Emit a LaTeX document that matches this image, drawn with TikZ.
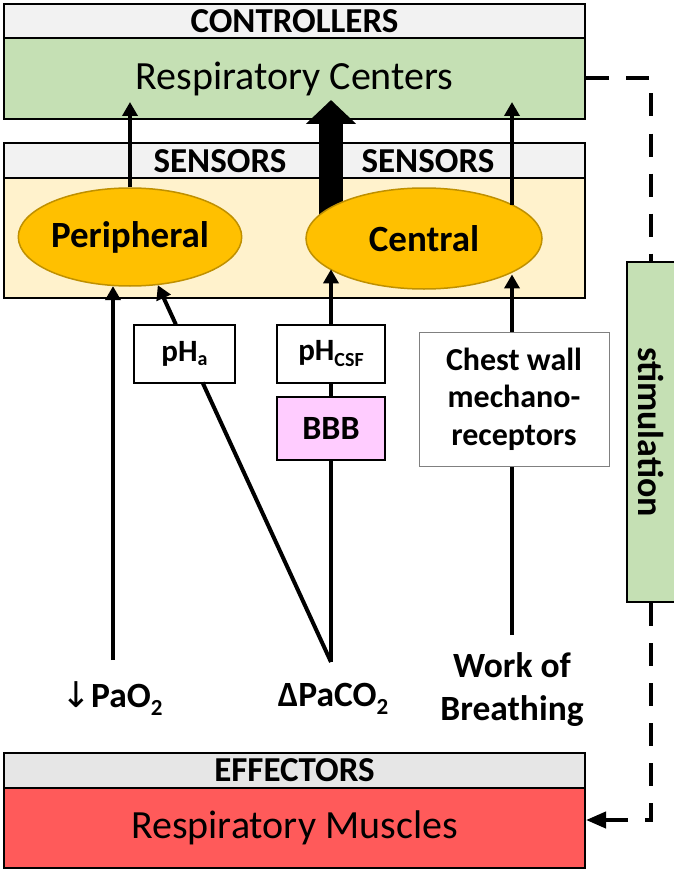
\documentclass[tikz,border=0pt]{standalone}
\usepackage{fontspec}
\setmainfont{Carlito}
\newfontfamily\dejavu{DejaVu Sans}
\usetikzlibrary{arrows.meta,shapes.geometric,calc}
\definecolor{hdrgray}{HTML}{F2F2F2}
\definecolor{effgray}{HTML}{E6E6E6}
\definecolor{ctrlgreen}{HTML}{C5E0B4}
\definecolor{senstan}{HTML}{FFF2CC}
\definecolor{ellfill}{HTML}{FFC000}
\definecolor{elldraw}{HTML}{BF9000}
\definecolor{bbbpink}{HTML}{FFCCFF}
\definecolor{musclered}{HTML}{FF5A5A}
\newcommand{\lowsub}[3]{\raisebox{-#1}{\fontsize{#2}{#2}\selectfont #3}}
\pgfdeclarelayer{back}
\pgfdeclarelayer{mid}
\pgfsetlayers{back,mid,main}
\begin{document}
\begin{tikzpicture}[x=1pt,y=-1pt,
  bigbox/.style={rectangle, draw=black, line width=2pt, minimum width=581pt, inner sep=0pt},
  hdrtext/.style={font=\fontsize{35}{40}\selectfont\bfseries, inner sep=0pt},
  bigtext/.style={font=\fontsize{40}{46}\selectfont},
  ellnode/.style={ellipse, draw=elldraw, line width=1.5pt, fill=ellfill, inner sep=0pt, font=\fontsize{37}{42}\selectfont\bfseries},
  smallbox/.style={rectangle, draw=black, line width=1.5pt, fill=white, inner sep=0pt, font=\fontsize{31}{36}\selectfont\bfseries},
  cwbox/.style={rectangle, draw=black!50, line width=1pt, fill=white, inner sep=0pt, align=center, font=\fontsize{32}{37.5}\selectfont\bfseries},
  labeltext/.style={inner sep=0pt, align=center, font=\fontsize{35.5}{43}\selectfont\bfseries},
  arr/.style={line width=4pt, -{Triangle[width=15pt,length=14pt]}},
  plainline/.style={line width=4pt},
  thickarr/.style={line width=24pt, -{Triangle[width=49pt,length=24pt]}},
  dashline/.style={line width=4pt, dash pattern=on 23pt off 17pt}
]
\useasboundingbox (0,0) rectangle (673,872);

% ---- boxes
\begin{pgfonlayer}{back}
\fill[white] (0,0) rectangle (673,872);
\node[bigbox, fill=hdrgray, minimum height=34pt] (ctrl) at (294.5,21) {};
\node[bigbox, fill=ctrlgreen, minimum height=81pt] (rc) at (294.5,78.5) {};
\node[bigbox, fill=hdrgray, minimum height=35pt] (senshead) at (294.5,160.5) {};
\node[bigbox, fill=senstan, minimum height=120pt] (sensbody) at (294.5,238) {};
\node[bigbox, fill=effgray, minimum height=35pt] (effhead) at (294.5,770.5) {};
\node[bigbox, fill=musclered, minimum height=80pt] (rm) at (294.5,828) {};
\end{pgfonlayer}

\node[hdrtext] (ctrltext) at (ctrl.center) {CONTROLLERS};
\node[bigtext] (rctext) at (rc.center) {Respiratory Centers};
\node[hdrtext] (sensL) at (220,161) {SENSORS};
\node[hdrtext] (sensR) at (428,161) {SENSORS};
\node[hdrtext] (efftext) at (effhead.center) {EFFECTORS};
\node[bigtext] (rmtext) at (rm.center) {Respiratory Muscles};

% ---- sensors
\node[ellnode, minimum width=204pt, minimum height=98pt] (periph) at (130,237) {Peripheral};
\node[ellnode, minimum width=236pt, minimum height=101pt] (central) at (424,238.5) {Central};

% ---- tips in controller box
\coordinate (tipL) at (130,102);
\coordinate (tipM) at (331,100);
\coordinate (tipR) at (512,102);

\begin{pgfonlayer}{mid}
\draw[thickarr] (tipM |- central.center) -- (tipM);
\end{pgfonlayer}
\draw[arr] (periph.north) -- (tipL);
\draw[arr] (tipR |- central.20.7) -- (tipR);

% ---- intermediate boxes
\node[smallbox, minimum width=101pt, minimum height=58pt] (pha) at (184.5,354) {pH\lowsub{4pt}{20}{a}};
\node[smallbox, minimum width=108pt, minimum height=58pt] (phcsf) at (331,354) {pH\lowsub{6pt}{20}{CSF}};
\node[smallbox, fill=bbbpink, minimum width=108pt, minimum height=63pt, font=\fontsize{34}{40}\selectfont\bfseries] (bbb) at (331,428.5) {BBB};
\node[cwbox, minimum width=190pt, minimum height=134pt] (cw) at (514,399) {Chest wall\\mechano-\\receptors};

% ---- stimuli labels
\node[labeltext] (pao2) at (112,699) {{\dejavu\mdseries ↓}PaO\lowsub{8pt}{23}{2}};
\node[labeltext] (pco2) at (333,699) {ΔPaCO\lowsub{8pt}{23}{2}};
\node[labeltext] (wob) at (512,690) {Work of\\Breathing};

\coordinate (pao2top) at (113,660);
\coordinate (pco2top) at (331,662);
\coordinate (wobtop) at (512,635);

% PaO2 -> peripheral
\draw[arr] (pao2top) -- (pao2top |- periph.250.6);
% PaCO2 -> pHa -> peripheral
\coordinate (pend) at (periph.300.7);
\draw[plainline] (pco2top) -- ($(pco2top)!0.7418!(pend)$);
\draw[arr] ($(pco2top)!0.896!(pend)$) -- (pend);
% PaCO2 -> BBB -> pHcsf -> central
\draw[plainline] (pco2top) -- (bbb.south);
\draw[plainline] (bbb.north) -- (phcsf.south);
\draw[arr] (phcsf.north) -- (phcsf.north |- central.198.3);
% Work of breathing -> chest wall -> central
\draw[plainline] (wobtop) -- (wobtop |- cw.south);
\draw[arr] (wobtop |- cw.north) -- (wobtop |- central.337.8);

% ---- stimulation feedback
\node[rectangle, draw=black, line width=2pt, fill=ctrlgreen, rotate=-90, minimum width=340pt, minimum height=48pt, inner sep=0pt, font=\fontsize{36}{40}\selectfont\bfseries] (stim) at (651,432) {stimulation};
\path ([yshift=8pt]rm.east) coordinate (rmarrow);
\draw[dashline] (rc.east) -- (rc.east -| stim.west) -- (stim.west);
\draw[dashline, -{Triangle[width=16pt,length=20pt]}] (stim.east) -- (stim.east |- rmarrow) -- (rmarrow);
\end{tikzpicture}
\end{document}
